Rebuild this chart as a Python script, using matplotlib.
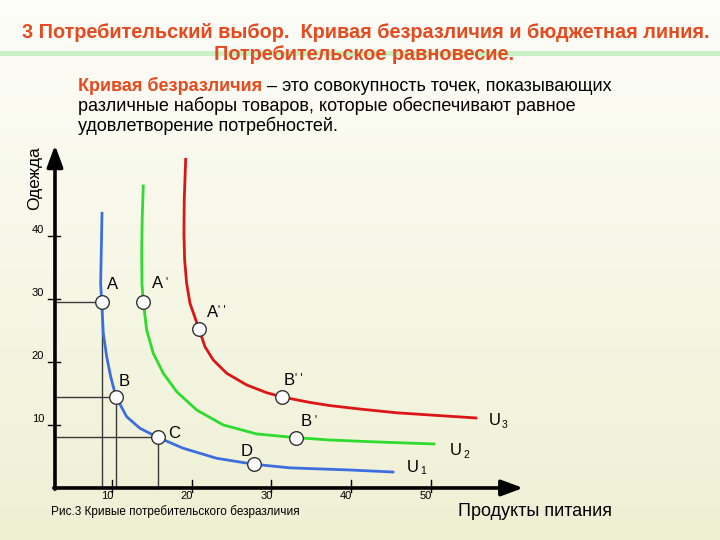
import numpy as np
import matplotlib.pyplot as plt
from matplotlib.colors import LinearSegmentedColormap

plt.rcParams['font.family'] = ['Liberation Sans', 'DejaVu Sans']

# кривые безразличия (продукты питания, одежда)
u1_x = [8.75, 8.66, 8.58, 8.71, 8.91, 9.34, 9.84, 10.50, 11.84, 13.51, 15.73, 18.95, 23.14,
        27.82, 32.34, 39.86, 45.26]
u1_y = [43.67, 37.84, 32.54, 29.62, 24.6, 20.87, 17.69, 14.52, 11.34, 9.49, 8.06, 6.31, 4.72,
        3.77, 3.2, 2.86, 2.54]
u2_x = [13.93, 13.80, 13.73, 13.76, 13.93, 14.35, 15.18, 16.44, 18.12, 20.63, 23.96, 28.16,
        33.09, 37.35, 43.6, 50.40]
u2_y = [48.01, 43.13, 37.84, 32.54, 29.62, 25.12, 21.41, 18.24, 15.31, 12.40, 10.02, 8.59,
        8.0, 7.63, 7.3, 7.0]
u3_x = [19.25, 19.07, 19.03, 19.12, 19.37, 19.79, 20.92, 21.67, 22.71, 24.39, 26.90, 29.41,
        31.37, 34.84, 37.35, 41.12, 45.76, 55.67]
u3_y = [52.26, 45.79, 40.49, 36.25, 32.54, 29.36, 25.28, 22.46, 20.35, 18.24, 16.38, 15.15,
        14.47, 13.6, 13.1, 12.55, 11.95, 11.13]

# наборы товаров
pt_names = ['A', 'B', 'C', 'D', 'A1', 'B1', 'A2', 'B2']
pt_x = [8.71, 10.5, 15.73, 27.82, 13.93, 33.09, 20.92, 31.37]
pt_y = [29.62, 14.52, 8.06, 3.77, 29.62, 8.0, 25.28, 14.47]
guide_pts = ['A', 'B', 'C']

xticks = [10, 20, 30, 40, 50]
yticks = [10, 20, 30, 40]

title1 = '3 Потребительский выбор.  Кривая безразличия и бюджетная линия.'
title2 = 'Потребительское равновесие.'
def_head = 'Кривая безразличия'
def_rest = ' – это совокупность точек, показывающих'
def_lines = ['различные наборы товаров, которые обеспечивают равное',
             'удовлетворение потребностей.']
caption = 'Рис.3 Кривые потребительского безразличия'

fig = plt.figure(figsize=(7.2, 5.4), dpi=100)

# фон
bg = fig.add_axes([0, 0, 1, 1])
bg.axis('off')
grad = np.linspace(0, 1, 256).reshape(-1, 1)
cmap = LinearSegmentedColormap.from_list('bg', ['#fdfdf9', '#f6f7e6', '#eef0d4'])
bg.imshow(grad, aspect='auto', cmap=cmap, extent=[0, 1, 0, 1], origin='upper')
bg.set_xlim(0, 1)
bg.set_ylim(0, 1)
bg.axhline(1 - 53 / 540, color='#c8efc2', lw=3.5)

ax = fig.add_axes([0, 0, 1, 1])
ax.axis('off')
ax.patch.set_alpha(0)
ax.set_xlim(-4.05, 86.3)
ax.set_ylim(-8.27, 77.58)

x0 = 2.85
arrow = dict(arrowstyle='-|>,head_length=0.65,head_width=0.24', lw=2.6, color='black',
             mutation_scale=20, shrinkA=0, shrinkB=0)
ax.annotate('', xy=(x0, 54.5), xytext=(x0, -0.2), arrowprops=arrow)
ax.annotate('', xy=(61.6, 0), xytext=(x0 - 0.15, 0), arrowprops=arrow)

for v in xticks:
    ax.plot([v, v], [-0.6, 1.3], color='black', lw=1)
    ax.annotate(str(v), xy=(v, 0), xytext=(-5, -3), textcoords='offset pixels',
                ha='center', va='top', fontsize=8)
for v in yticks:
    ax.plot([1.97, 3.48], [v, v], color='black', lw=1)
    ax.annotate(str(v), xy=(x0, v), xytext=(-17, 6), textcoords='offset pixels',
                ha='center', va='center', fontsize=8)

# вспомогательные линии
for n in guide_pts:
    i = pt_names.index(n)
    ax.plot([x0, pt_x[i]], [pt_y[i], pt_y[i]], color='#3a3a3a', lw=1, zorder=2)
    ax.plot([pt_x[i], pt_x[i]], [pt_y[i], 0], color='#3a3a3a', lw=1, zorder=2)

ax.plot(u1_x, u1_y, color='#3d6ee0', lw=2, zorder=3, solid_joinstyle='round')
ax.plot(u2_x, u2_y, color='#2ddc2d', lw=2, zorder=3, solid_joinstyle='round')
ax.plot(u3_x, u3_y, color='#dc1616', lw=2, zorder=3, solid_joinstyle='round')

ax.plot(pt_x, pt_y, 'o', ms=9.8, mfc='white', mec='#333333', mew=1, zorder=5)

lab_off = {'A': (11, 17), 'B': (8, 15), 'C': (16, 4), 'D': (-7, 13),
           'A1': (14, 18), 'B1': (10, 16), 'A2': (14, 16), 'B2': (7, 16)}
primes = {'A1': "'", 'B1': "'", 'A2': "' '", 'B2': "' '"}
for n, x, y in zip(pt_names, pt_x, pt_y):
    dx, dy = lab_off[n]
    ax.annotate(n[0], xy=(x, y), xytext=(dx, dy), textcoords='offset pixels',
                ha='center', va='center', fontsize=12)
    if n in primes:
        ax.annotate(primes[n], xy=(x, y), xytext=(dx + 9, dy + 2), textcoords='offset pixels',
                    ha='center', va='center', fontsize=8.5)

u_labels = [('1', u1_x[-1], u1_y[-1], (20, 5)),
            ('2', u2_x[-1], u2_y[-1], (22, -7)),
            ('3', u3_x[-1], u3_y[-1], (19, -3))]
for s, x, y, (dx, dy) in u_labels:
    ax.annotate('U', xy=(x, y), xytext=(dx, dy), textcoords='offset pixels',
                ha='center', va='center', fontsize=12)
    ax.annotate(s, xy=(x, y), xytext=(dx + 10, dy - 4), textcoords='offset pixels',
                ha='center', va='center', fontsize=7.5)

# тексты
bold_red = dict(fontweight='bold', color='#e64a1e')
fig.text(366 / 720, 1 - 33 / 540, title1, ha='center', va='center', fontsize=14.3, **bold_red)
fig.text(364 / 720, 1 - 54 / 540, title2, ha='center', va='center', fontsize=14.3, **bold_red)

t1 = fig.text(78 / 720, 1 - 91 / 540, def_head, ha='left', va='baseline', fontsize=13,
              **bold_red)
ax.annotate(def_rest, xy=(1, 0), xycoords=t1, ha='left', va='bottom', fontsize=13)
for k, line in enumerate(def_lines):
    fig.text(78 / 720, 1 - (111 + 20 * k) / 540, line, ha='left', va='baseline', fontsize=13)

fig.text(35 / 720, 1 - 178 / 540, 'Одежда', rotation=90, ha='center', va='center', fontsize=12.5)
fig.text(535 / 720, 1 - 511 / 540, 'Продукты питания', ha='center', va='center', fontsize=13)
fig.text(175 / 720, 1 - 512 / 540, caption, ha='center', va='center', fontsize=8.5)

fig.savefig('out.png', dpi=100)
